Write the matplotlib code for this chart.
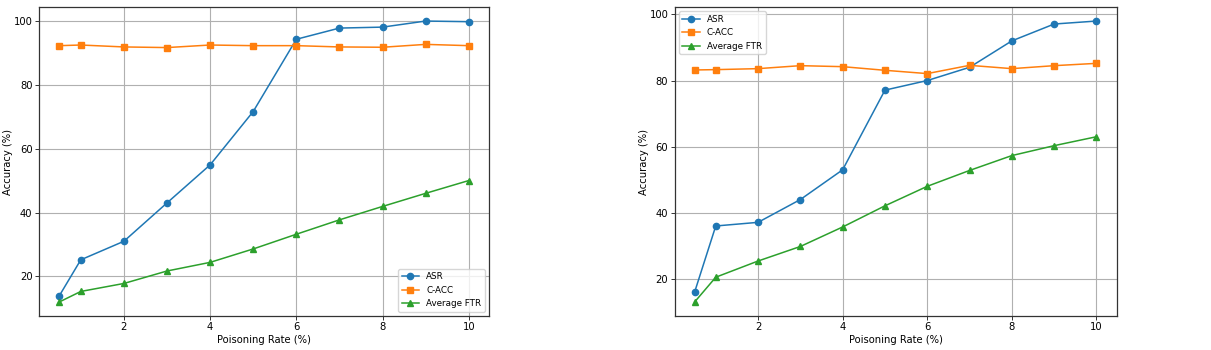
import numpy as np
import matplotlib
matplotlib.use("Agg")
import matplotlib.pyplot as plt

rates = [0.5, 1, 2, 3, 4, 5, 6, 7, 8, 9, 10]

asr_a = [13.9, 25.2, 31.0, 43.0, 54.9, 71.6, 94.2, 97.7, 98.0, 99.9, 99.7]
cacc_a = [92.2, 92.4, 91.8, 91.6, 92.4, 92.2, 92.2, 91.8, 91.7, 92.6, 92.2]
ftr_a = [12.0, 15.3, 17.8, 21.7, 24.4, 28.6, 33.2, 37.7, 41.9, 46.0, 50.0]

asr_b = [16.0, 36.0, 37.1, 44.0, 53.0, 77.1, 80.0, 84.0, 92.0, 97.1, 98.0]
cacc_b = [83.2, 83.3, 83.6, 84.5, 84.2, 83.1, 82.1, 84.6, 83.6, 84.5, 85.2]
ftr_b = [13.0, 20.5, 25.4, 29.8, 35.7, 42.1, 48.0, 52.8, 57.3, 60.3, 63.0]

fs = 7.2

def draw(ax, asr, cacc, ftr, loc):
    ax.plot(rates, asr, marker='o', color='#1f77b4', lw=1.1, ms=4.5, label='ASR')
    ax.plot(rates, cacc, marker='s', color='#ff7f0e', lw=1.1, ms=4.5, label='C-ACC')
    ax.plot(rates, ftr, marker='^', color='#2ca02c', lw=1.1, ms=4.5, label='Average FTR')
    ax.grid(True, color='#b0b0b0', lw=0.8)
    ax.set_xlabel('Poisoning Rate (%)', fontsize=fs, labelpad=2)
    ax.set_ylabel('Accuracy (%)', fontsize=fs, labelpad=0.5)
    ax.tick_params(labelsize=fs, length=3, width=0.7, pad=1.5, colors='#333333', labelcolor='black')
    for s in ax.spines.values():
        s.set_linewidth(0.9)
        s.set_color('#333333')
    ax.legend(loc=loc, fontsize=6.3)

fig = plt.figure(figsize=(12.11, 3.5), dpi=100)
ax1 = fig.add_axes([0.032, 0.097, 0.372, 0.883])
ax2 = fig.add_axes([0.557, 0.097, 0.365, 0.883])
draw(ax1, asr_a, cacc_a, ftr_a, 'lower right')
draw(ax2, asr_b, cacc_b, ftr_b, 'upper left')

fig.savefig('out.png', dpi=100)
